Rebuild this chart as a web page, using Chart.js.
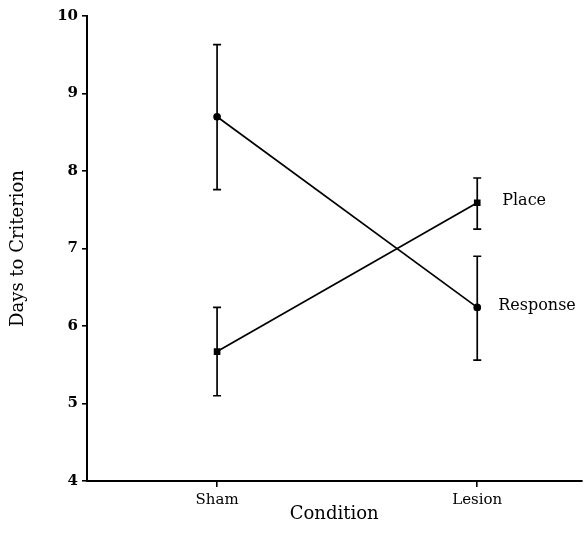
<!DOCTYPE html>
<html>
<head>
<meta charset="utf-8">
<script src="https://cdn.jsdelivr.net/npm/chart.js@4/dist/chart.umd.min.js"></script>
<style>
  html, body { margin: 0; padding: 0; background: #fff; }
  #wrap { width: 587px; height: 550px; }
</style>
</head>
<body>
<div id="wrap"><canvas id="chart"></canvas></div>
<script>
// Data
const conditions = ['Sham', 'Lesion'];
const placeMeans = [5.67, 7.59];
const placeLow = [5.10, 7.25];
const placeHigh = [6.24, 7.91];
const responseMeans = [8.70, 6.24];
const responseLow = [7.76, 5.56];
const responseHigh = [9.63, 6.90];
const yTicks = [4, 5, 6, 7, 8, 9, 10];

const serif = "'DejaVu Serif', 'Liberation Serif', serif";

// vertical error bars with caps
const errorBars = {
    id: 'errorBars',
    afterDatasetsDraw(chart) {
        const ctx = chart.ctx;
        const y = chart.scales.y;
        ctx.save();
        ctx.strokeStyle = '#000';
        ctx.lineWidth = 1.7;
        chart.data.datasets.forEach((ds, i) => {
            const meta = chart.getDatasetMeta(i);
            meta.data.forEach((pt, j) => {
                const top = y.getPixelForValue(ds.errHigh[j]);
                const bot = y.getPixelForValue(ds.errLow[j]);
                ctx.beginPath();
                ctx.moveTo(pt.x, top);
                ctx.lineTo(pt.x, bot);
                ctx.moveTo(pt.x - 4, top);
                ctx.lineTo(pt.x + 4, top);
                ctx.moveTo(pt.x - 4, bot);
                ctx.lineTo(pt.x + 4, bot);
                ctx.stroke();
            });
        });
        ctx.restore();
    }
};

// series names written next to the last point
const seriesLabels = {
    id: 'seriesLabels',
    afterDatasetsDraw(chart) {
        const ctx = chart.ctx;
        ctx.save();
        ctx.fillStyle = '#000';
        ctx.font = "16px " + serif;
        ctx.textBaseline = 'middle';
        chart.data.datasets.forEach((ds, i) => {
            const meta = chart.getDatasetMeta(i);
            const last = meta.data[meta.data.length - 1];
            ctx.fillText(ds.label, last.x + ds.labelOffset, last.y - 2);
        });
        ctx.restore();
    }
};

new Chart(document.getElementById('chart'), {
    type: 'line',
    data: {
        datasets: [{
            label: 'Place',
            data: placeMeans.map((v, i) => ({ x: i + 1, y: v })),
            errLow: placeLow,
            errHigh: placeHigh,
            labelOffset: 25,
            borderColor: '#000',
            backgroundColor: '#000',
            borderWidth: 1.7,
            pointStyle: 'rect',
            pointRadius: 3.5,
            tension: 0
        }, {
            label: 'Response',
            data: responseMeans.map((v, i) => ({ x: i + 1, y: v })),
            errLow: responseLow,
            errHigh: responseHigh,
            labelOffset: 21,
            borderColor: '#000',
            backgroundColor: '#000',
            borderWidth: 1.7,
            pointStyle: 'circle',
            pointRadius: 3,
            tension: 0
        }]
    },
    options: {
        responsive: true,
        maintainAspectRatio: false,
        animation: false,
        layout: { padding: { top: 16, right: 0, left: 0, bottom: 0 } },
        plugins: {
            legend: { display: false },
            tooltip: { enabled: false }
        },
        scales: {
            x: {
                type: 'linear',
                min: 0.5,
                max: 2.40,
                afterBuildTicks(scale) {
                    scale.ticks = conditions.map((c, i) => ({ value: i + 1 }));
                },
                afterFit(scale) {
                    scale.height = 69;
                },
                ticks: {
                    color: '#000',
                    font: { family: serif, size: 15 },
                    padding: 4,
                    callback: (v) => conditions[v - 1]
                },
                grid: { drawOnChartArea: false, color: '#000', tickLength: 6, lineWidth: 1.6 },
                border: { display: true, color: '#000', width: 2 },
                title: {
                    display: true,
                    text: 'Condition',
                    color: '#000',
                    font: { family: serif, size: 18 },
                    padding: { top: 4, bottom: 25 }
                }
            },
            y: {
                min: 4,
                max: 10,
                afterBuildTicks(scale) {
                    scale.ticks = yTicks.map(v => ({ value: v }));
                },
                afterFit(scale) {
                    scale.width = 87;
                },
                ticks: {
                    color: '#000',
                    font: { family: serif, size: 15, weight: 'bold' },
                    padding: 4
                },
                grid: { drawOnChartArea: false, color: '#000', tickLength: 5, lineWidth: 1.6 },
                border: { display: true, color: '#000', width: 2 },
                title: {
                    display: true,
                    text: 'Days to Criterion',
                    color: '#000',
                    font: { family: serif, size: 18 },
                    padding: { top: 8, bottom: 0 }
                }
            }
        }
    },
    plugins: [errorBars, seriesLabels]
});
</script>
</body>
</html>
